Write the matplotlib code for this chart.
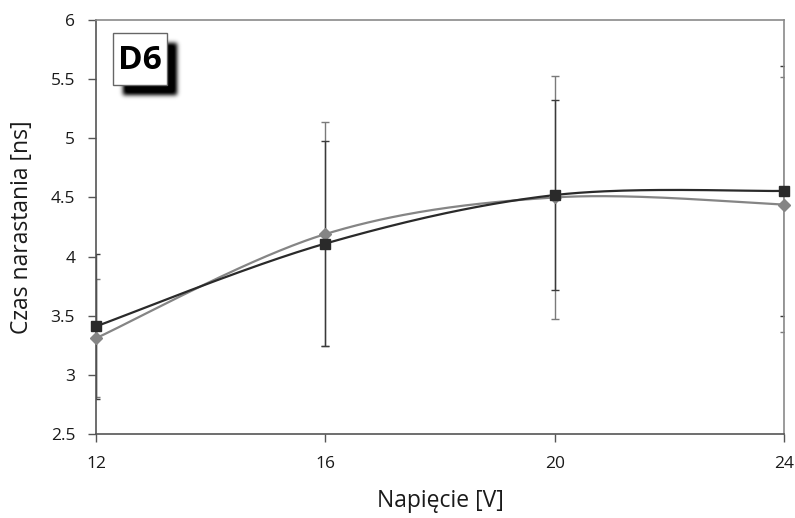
import numpy as np
import matplotlib
matplotlib.use("Agg")
import matplotlib.pyplot as plt
from matplotlib.patches import Rectangle

plt.rcParams['font.family'] = ['Open Sans', 'DejaVu Sans']

# Data
voltage = [12, 16, 20, 24]
series_dark = [3.41, 4.11, 4.52, 4.555]     # squares
err_dark = [0.61, 0.87, 0.80, 1.06]
series_gray = [3.31, 4.19, 4.50, 4.44]      # diamonds
err_gray = [0.50, 0.95, 1.03, 1.08]
xticks = [12, 16, 20, 24]
yticks = [2.5, 3, 3.5, 4, 4.5, 5, 5.5, 6]
xlabel = "Napięcie [V]"
ylabel = "Czas narastania [ns]"
tag = "D6"


def excel_smooth(xs, ys, n=60):
    xs = np.asarray(xs, float)
    ys = np.asarray(ys, float)
    P = np.column_stack([xs, ys])
    out = []
    for i in range(len(P) - 1):
        p0 = P[i - 1] if i > 0 else P[i]
        p1 = P[i]
        p2 = P[i + 1]
        p3 = P[i + 2] if i + 2 < len(P) else P[i + 1]
        c1 = p1 + (p2 - p0) / 6.0
        c2 = p2 - (p3 - p1) / 6.0
        t = np.linspace(0, 1, n)[:, None]
        seg = ((1 - t) ** 3) * p1 + 3 * ((1 - t) ** 2) * t * c1 + 3 * (1 - t) * t ** 2 * c2 + t ** 3 * p2
        if i > 0:
            seg = seg[1:]
        out.append(seg)
    out = np.vstack(out)
    return out[:, 0], out[:, 1]


W, H = 795, 518
fig = plt.figure(figsize=(W / 100, H / 100), dpi=100)
ax = fig.add_axes([96 / W, 1 - 434 / H, (784 - 96) / W, (434 - 20) / H])

dark = '#2a2a2a'
gray = '#858585'

# error bars
ax.errorbar(voltage, series_gray, yerr=err_gray, fmt='none', ecolor='#7a7a7a',
            elinewidth=1.0, capsize=3, capthick=1.0, zorder=2)
ax.errorbar(voltage, series_dark, yerr=err_dark, fmt='none', ecolor='#3a3a3a',
            elinewidth=1.0, capsize=3, capthick=1.0, zorder=2)

xs, ys = excel_smooth(voltage, series_gray)
ax.plot(xs, ys, color=gray, lw=1.6, zorder=3, clip_on=False)
xs, ys = excel_smooth(voltage, series_dark)
ax.plot(xs, ys, color=dark, lw=1.6, zorder=4, clip_on=False)

ax.plot(voltage, series_gray, linestyle='none', marker='D', markersize=6.5,
        color=gray, markeredgecolor=gray, zorder=5, clip_on=False)
ax.plot(voltage, series_dark, linestyle='none', marker='s', markersize=7.5,
        color=dark, markeredgecolor=dark, zorder=6, clip_on=False)

ax.set_xlim(12, 24)
ax.set_ylim(2.5, 6)
ax.set_xticks(xticks)
ax.set_xticklabels([str(v) for v in xticks])
ax.set_yticks(yticks)
ax.set_yticklabels([f"{v:g}" for v in yticks])
ax.tick_params(axis='both', direction='out', length=6, width=1.0, color='#555555',
               labelsize=12.5, labelcolor='#1a1a1a', pad=9)
ax.tick_params(axis='x', pad=10)

for side in ['left', 'bottom']:
    ax.spines[side].set_color('#555555')
    ax.spines[side].set_linewidth(1.2)
for side in ['top', 'right']:
    ax.spines[side].set_color('#8a8a8a')
    ax.spines[side].set_linewidth(1.2)

ax.set_xlabel(xlabel, fontsize=16.5, color='#1a1a1a', labelpad=12)
ax.set_ylabel(ylabel, fontsize=16.5, color='#1a1a1a', labelpad=12)

# D6 tag with blurred shadow
bx0, by0, bx1, by1 = 113, 33, 167, 85
off = 10
pad = 12
sw = (bx1 - bx0) + 2 * pad
sh = (by1 - by0) + 2 * pad
mask = np.zeros((sh, sw))
mask[pad:pad + (by1 - by0), pad:pad + (bx1 - bx0)] = 1.0
sig = 2.2
r = np.arange(-8, 9)
k = np.exp(-r ** 2 / (2 * sig ** 2))
k /= k.sum()
mask = np.apply_along_axis(lambda v: np.convolve(v, k, mode='same'), 0, mask)
mask = np.apply_along_axis(lambda v: np.convolve(v, k, mode='same'), 1, mask)
rgba = np.zeros((sh, sw, 4))
rgba[..., 3] = np.clip(mask * 1.1, 0, 1)
xo = bx0 + off - pad
yo = H - (by1 + off + pad)
fig.figimage(rgba, xo=xo, yo=yo, origin='upper', zorder=10)


def px(x, y):
    return x / W, 1 - y / H

x0, y0 = px(bx0, by1)
x1, y1 = px(bx1, by0)
fig.add_artist(Rectangle((x0, y0), x1 - x0, y1 - y0, transform=fig.transFigure,
                         facecolor='white', edgecolor='#666666', linewidth=1.0, zorder=11))
fig.text((x0 + x1) / 2, (y0 + y1) / 2 - 0.002, tag, fontsize=24, fontweight='bold',
         ha='center', va='center', color='black', zorder=12)

fig.savefig('out.png', dpi=100)
